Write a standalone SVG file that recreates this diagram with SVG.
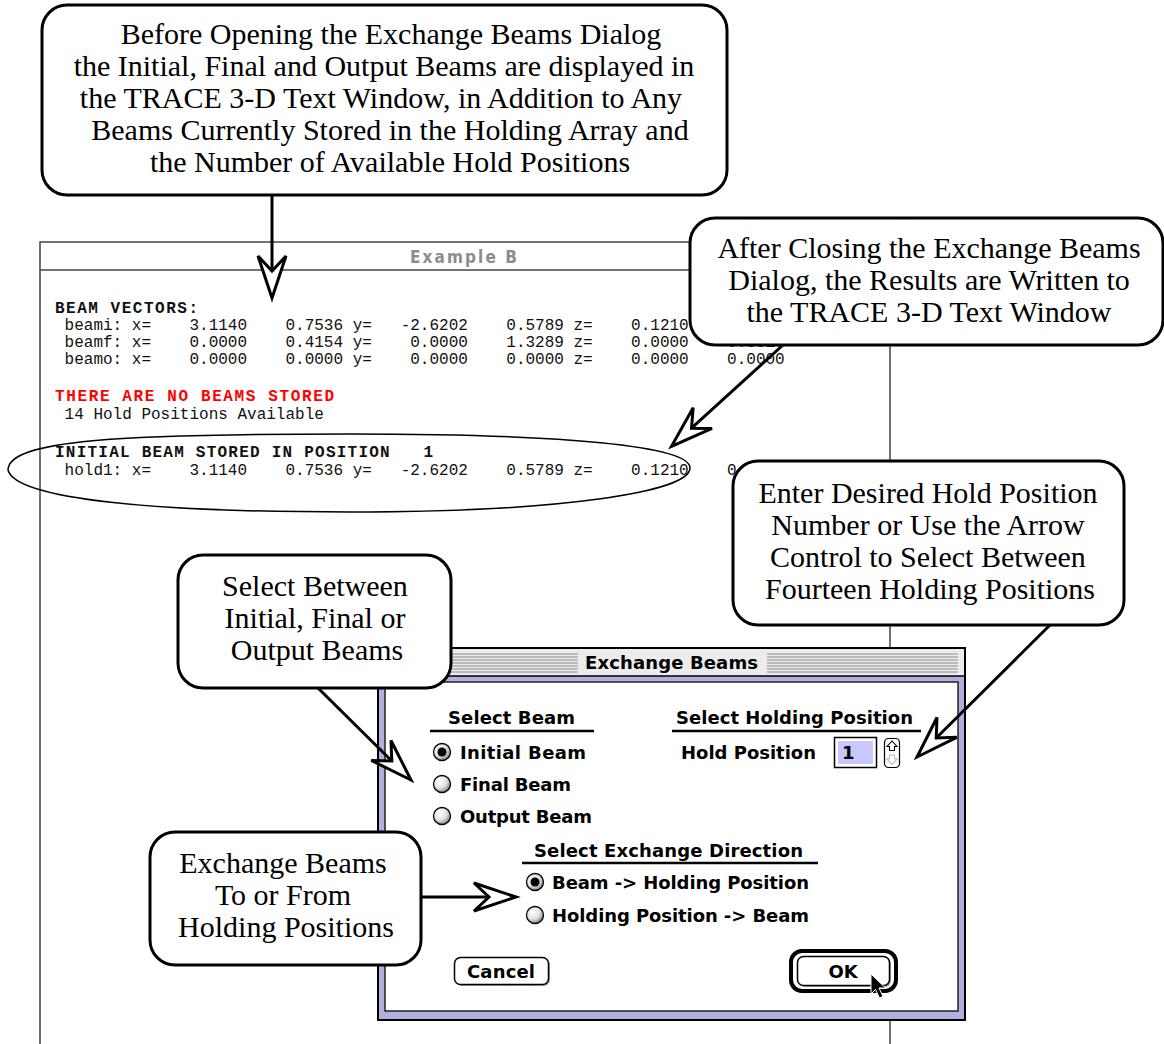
<svg xmlns="http://www.w3.org/2000/svg" width="1164" height="1044" viewBox="0 0 1164 1044">
<defs>
<style>
.callout rect { fill:#fff; stroke:#000; stroke-width:3; }
.callout text { font-family:"Liberation Serif","Times New Roman",serif; font-size:30px; text-anchor:middle; fill:#000; }
.mono { font-family:"Liberation Mono","Courier New",monospace; font-size:16px; white-space:pre; fill:#111; }
.bold { font-weight:bold; }
.red { fill:#ff0000; }
.ui { font-family:"DejaVu Sans","Liberation Sans",sans-serif; font-weight:bold; font-size:18px; fill:#000; }
.wtitle { font-family:"DejaVu Sans Condensed","DejaVu Sans",sans-serif; font-weight:bold; font-size:17px; fill:#8c8c8c; }
.rule { stroke:#000; stroke-width:2.5; }
.stripe { stroke:#8a8a8a; stroke-width:1; }
.radio { fill:url(#radioShade); stroke:#000; stroke-width:1.3; }
.conn line { stroke:#000; stroke-width:3; marker-end:url(#dart); }
</style>
<marker id="dart" markerUnits="userSpaceOnUse" markerWidth="60" markerHeight="40" refX="15" refY="20" orient="auto" overflow="visible">
  <path d="M42,20 L0,6 L15,20 L0,34 Z" fill="#fff" stroke="#000" stroke-width="3" stroke-linejoin="miter"/>
</marker>
<radialGradient id="radioShade" cx="0.38" cy="0.35" r="0.7">
  <stop offset="0" stop-color="#fff"/>
  <stop offset="0.55" stop-color="#e2e2e2"/>
  <stop offset="1" stop-color="#7a7a7a"/>
</radialGradient>
</defs>

<rect width="1164" height="1044" fill="#fff"/>

<!-- TRACE 3-D text window -->
<g id="text-window">
  <rect x="40" y="242" width="850" height="830" fill="#fff" stroke="#444" stroke-width="1.5"/>
  <line x1="40" y1="270" x2="890" y2="270" stroke="#444" stroke-width="1.5"/>
  <text class="wtitle" x="410" y="263" textLength="107">Example B</text>

  <text class="mono bold" x="55" y="313" textLength="143" xml:space="preserve">BEAM VECTORS:</text>
  <text class="mono" x="55" y="330" xml:space="preserve"> beami: x=    3.1140    0.7536 y=   -2.6202    0.5789 z=    0.1210</text>
  <text class="mono" x="55" y="347" xml:space="preserve"> beamf: x=    0.0000    0.4154 y=    0.0000    1.3289 z=    0.0000    0.3510</text>
  <text class="mono" x="55" y="364" xml:space="preserve"> beamo: x=    0.0000    0.0000 y=    0.0000    0.0000 z=    0.0000    0.0000</text>

  <text class="mono bold red" x="55" y="401" textLength="279" xml:space="preserve">THERE ARE NO BEAMS STORED</text>
  <text class="mono" x="55" y="419" xml:space="preserve"> 14 Hold Positions Available</text>

  <text class="mono bold" x="55" y="457" textLength="378" xml:space="preserve">INITIAL BEAM STORED IN POSITION   1</text>
  <text class="mono" x="55" y="475" xml:space="preserve"> hold1: x=    3.1140    0.7536 y=   -2.6202    0.5789 z=    0.1210    0.0000</text>

  <!-- hand-drawn ring round the stored beam -->
  <path d="M8,470 C 8,440 120,434 350,434 C 565,434 690,446 690,468 C 690,492 560,512 350,512 C 160,512 16,500 8,470 Z" fill="none" stroke="#000" stroke-width="1.5"/>
</g>

<!-- Exchange Beams dialog -->
<g id="exchange-dialog">
  <rect x="378" y="648" width="587" height="372" fill="#b0b0de" stroke="#000" stroke-width="2"/>
  <rect x="379" y="649" width="585" height="27" fill="#ececec"/>
  <line x1="378" y1="676" x2="965" y2="676" stroke="#000" stroke-width="1.5"/>
  <g class="stripe">
    <line x1="386" y1="654" x2="578" y2="654"/><line x1="386" y1="657" x2="578" y2="657"/>
    <line x1="386" y1="660" x2="578" y2="660"/><line x1="386" y1="663" x2="578" y2="663"/>
    <line x1="386" y1="666" x2="578" y2="666"/><line x1="386" y1="669" x2="578" y2="669"/>
    <line x1="386" y1="672" x2="578" y2="672"/>
    <line x1="767" y1="654" x2="958" y2="654"/><line x1="767" y1="657" x2="958" y2="657"/>
    <line x1="767" y1="660" x2="958" y2="660"/><line x1="767" y1="663" x2="958" y2="663"/>
    <line x1="767" y1="666" x2="958" y2="666"/><line x1="767" y1="669" x2="958" y2="669"/>
    <line x1="767" y1="672" x2="958" y2="672"/>
  </g>
  <text class="ui" x="585" y="669" textLength="173">Exchange Beams</text>
  <rect x="385" y="682" width="573" height="329" fill="#fff" stroke="#222" stroke-width="1.5"/>

  <!-- beam selection -->
  <text class="ui" x="448" y="724" textLength="127">Select Beam</text>
  <line class="rule" x1="430" y1="731" x2="594" y2="731"/>
  <circle class="radio" cx="442" cy="752" r="8.5"/>
  <circle cx="442" cy="752" r="4.5" fill="#000"/>
  <text class="ui" x="460" y="759" textLength="126">Initial Beam</text>
  <circle class="radio" cx="442" cy="784" r="8.5"/>
  <text class="ui" x="460" y="791" textLength="111">Final Beam</text>
  <circle class="radio" cx="442" cy="816" r="8.5"/>
  <text class="ui" x="460" y="823" textLength="132">Output Beam</text>

  <!-- holding position -->
  <text class="ui" x="676" y="724" textLength="237">Select Holding Position</text>
  <line class="rule" x1="672" y1="731" x2="921" y2="731"/>
  <text class="ui" x="681" y="759" textLength="135">Hold Position</text>
  <rect x="834.5" y="737.5" width="42" height="30" fill="#fff" stroke="#000" stroke-width="1.5"/>
  <rect x="838" y="741" width="35" height="23" fill="#c8c8ff"/>
  <text class="ui" x="842" y="759">1</text>
  <rect x="884.5" y="738.5" width="15" height="29" rx="4" fill="#fff" stroke="#000" stroke-width="1.2"/>
  <path d="M892,741 L897,746.5 L894.5,746.5 L894.5,750.5 L889.5,750.5 L889.5,746.5 L887,746.5 Z" fill="#fff" stroke="#000" stroke-width="1.1"/>
  <path d="M892,764.5 L897,759 L894.5,759 L894.5,755 L889.5,755 L889.5,759 L887,759 Z" fill="#fff" stroke="#bbb" stroke-width="1.1"/>

  <!-- exchange direction -->
  <text class="ui" x="534" y="857" textLength="269">Select Exchange Direction</text>
  <line class="rule" x1="522" y1="863" x2="818" y2="863"/>
  <circle class="radio" cx="535" cy="882" r="8.5"/>
  <circle cx="535" cy="882" r="4.5" fill="#000"/>
  <text class="ui" x="552" y="889" textLength="257">Beam -&gt; Holding Position</text>
  <circle class="radio" cx="535" cy="915" r="8.5"/>
  <text class="ui" x="552" y="922" textLength="257">Holding Position -&gt; Beam</text>

  <!-- buttons -->
  <rect x="456" y="959" width="94" height="27" rx="6" fill="#9c9ccc"/>
  <rect x="454.5" y="957.5" width="94" height="27" rx="6" fill="#fff" stroke="#000" stroke-width="1.5"/>
  <text class="ui" x="467" y="978" textLength="68">Cancel</text>
  <rect x="791" y="951" width="105" height="40" rx="11" fill="#fff" stroke="#000" stroke-width="4"/>
  <rect x="799" y="958" width="92" height="29" rx="6" fill="#9c9ccc"/>
  <rect x="797.5" y="956.5" width="92" height="29" rx="6" fill="#fff" stroke="#000" stroke-width="1.5"/>
  <text class="ui" x="843" y="978" text-anchor="middle">OK</text>
  <!-- mouse pointer -->
  <path d="M871,974 L871,994 L875.5,989.5 L879.5,998 L883,996.5 L879,988 L885.5,988 Z" fill="#000" stroke="#fff" stroke-width="1"/>
</g>

<!-- callouts -->
<g id="callout-before" class="callout">
  <rect x="42" y="5" width="685" height="190" rx="25"/>
  <text x="391" y="44">Before Opening the Exchange Beams Dialog</text>
  <text x="384" y="76">the Initial, Final and Output Beams are displayed in</text>
  <text x="381" y="108">the TRACE 3-D Text Window, in Addition to Any</text>
  <text x="390" y="140">Beams Currently Stored in the Holding Array and</text>
  <text x="390" y="172">the Number of Available Hold Positions</text>
</g>
<g id="callout-after" class="callout">
  <rect x="690" y="218" width="473" height="127" rx="25"/>
  <text x="929" y="258">After Closing the Exchange Beams</text>
  <text x="929" y="290">Dialog, the Results are Written to</text>
  <text x="929" y="322">the TRACE 3-D Text Window</text>
</g>
<g id="callout-select" class="callout">
  <rect x="178" y="555" width="273" height="133" rx="25"/>
  <text x="315" y="596">Select Between</text>
  <text x="315" y="628">Initial, Final or</text>
  <text x="317" y="660">Output Beams</text>
</g>
<g id="callout-hold" class="callout">
  <rect x="733" y="461" width="391" height="164" rx="25"/>
  <text x="928" y="503">Enter Desired Hold Position</text>
  <text x="928" y="535">Number or Use the Arrow</text>
  <text x="928" y="567">Control to Select Between</text>
  <text x="930" y="599">Fourteen Holding Positions</text>
</g>
<g id="callout-direction" class="callout">
  <rect x="150" y="832" width="271" height="133" rx="25"/>
  <text x="283" y="873">Exchange Beams</text>
  <text x="283" y="905">To or From</text>
  <text x="286" y="937">Holding Positions</text>
</g>

<!-- connectors -->
<g id="connectors" class="conn">
  <line x1="272" y1="195" x2="272" y2="271"/>
  <line x1="783" y1="345" x2="691.5" y2="428.2"/>
  <line x1="318" y1="688" x2="391.8" y2="761"/>
  <line x1="1050" y1="625" x2="936.2" y2="738"/>
  <line x1="421" y1="897" x2="489" y2="897"/>
</g>
</svg>
